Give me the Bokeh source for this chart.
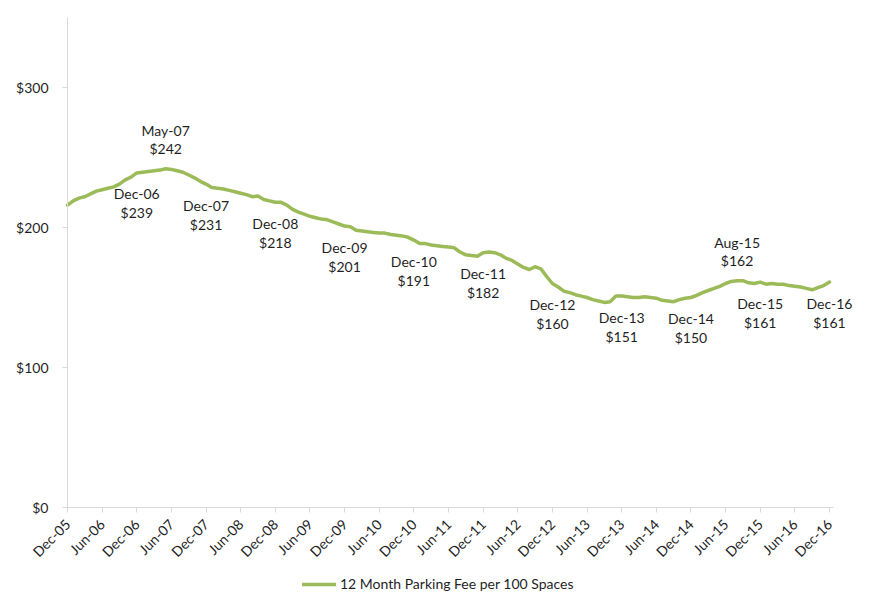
import math
from bokeh.plotting import figure
from bokeh.models import (ColumnDataSource, FixedTicker, NumeralTickFormatter,
                          Range1d, Legend, LegendItem)
from bokeh.core.properties import value
from bokeh.embed import file_html
from bokeh.resources import INLINE

# Monthly 12-month parking fee per 100 spaces, Dec-05 .. Dec-16 (index 0..132)
fee = [
    216, 219, 221, 222, 224, 226, 227, 228, 229, 231, 234, 236,          # Dec-05..Nov-06
    239, 239.5, 240, 240.5, 241, 242, 241.5, 240.5, 239.5, 237.5, 235.5, 233,  # Dec-06..Nov-07
    231, 228.5, 228, 227.5, 226.5, 225.5, 224.5, 223.5, 222, 222.5, 220, 219,  # Dec-07..Nov-08
    218, 218, 216, 213, 211, 209.5, 208, 207, 206, 205.5, 204, 202.5,    # Dec-08..Nov-09
    201, 200.5, 198, 197.5, 197, 196.5, 196, 196, 195, 194.5, 194, 193,  # Dec-09..Nov-10
    191, 188.5, 188.5, 187.5, 187, 186.5, 186, 185.5, 182.5, 180.5, 180, 179.5,  # Dec-10..Nov-11
    182, 182.5, 182, 180.5, 178, 176.5, 174, 171.5, 170, 172, 170.5, 165,  # Dec-11..Nov-12
    160, 157.5, 154.5, 153.5, 152, 151, 150, 148.5, 147.5, 146.5, 147, 151,  # Dec-12..Nov-13
    151, 150.5, 150, 150, 150.5, 150, 149.5, 148, 147.5, 147, 148.5, 149.5,  # Dec-13..Nov-14
    150, 151.5, 153.5, 155, 156.5, 158, 160, 161.5, 162, 162, 160.5, 160,    # Dec-14..Nov-15
    161, 159.5, 160, 159.5, 159.5, 158.5, 158, 157.5, 156.5, 155.5, 157, 158.5,  # Dec-15..Nov-16
    161,                                                                   # Dec-16
]
months = list(range(len(fee)))

tick_positions = list(range(0, 133, 6))
tick_labels = ["Dec-05", "Jun-06", "Dec-06", "Jun-07", "Dec-07", "Jun-08", "Dec-08",
               "Jun-09", "Dec-09", "Jun-10", "Dec-10", "Jun-11", "Dec-11", "Jun-12",
               "Dec-12", "Jun-13", "Dec-13", "Jun-14", "Dec-14", "Jun-15", "Dec-15",
               "Jun-16", "Dec-16"]

ann_labels = ["Dec-06", "May-07", "Dec-07", "Dec-08", "Dec-09", "Dec-10", "Dec-11",
              "Dec-12", "Dec-13", "Dec-14", "Aug-15", "Dec-15", "Dec-16"]
ann_index = [12, 17, 24, 36, 48, 60, 72, 84, 96, 108, 116, 120, 132]
ann_values = [239, 242, 231, 218, 201, 191, 182, 160, 151, 150, 162, 161, 161]
ann_above = [False, True, False, False, False, False, False, False, False, False,
             True, False, False]

y_ticks = [0, 100, 200, 300]
series_name = "12 Month Parking Fee per 100 Spaces"

FONT = "Lato"
TXT = "#1f1f1f"
AXIS = "#d9d9d9"
GREEN = "#9bbb59"

p = figure(width=871, height=592, frame_width=871, frame_height=592,
           output_backend="svg", toolbar_location=None,
           x_range=Range1d(-11.606, 139.28), y_range=Range1d(-60.7, 362.14))
p.min_border_left = 0
p.min_border_right = 0
p.min_border_top = 0
p.min_border_bottom = 0
p.outline_line_color = None
p.xgrid.grid_line_color = None
p.ygrid.grid_line_color = None

src = ColumnDataSource(dict(x=months, y=fee))
line = p.line("x", "y", source=src, line_color=GREEN, line_width=3.5,
              line_join="round", line_cap="round")

# annotations
lab_x, lab_y, lab_t, lab_off = [], [], [], []
for lab, i, v, above in zip(ann_labels, ann_index, ann_values, ann_above):
    offs = (-38, -20) if above else (21, 40)
    lab_x += [i, i]
    lab_y += [v, v]
    lab_t += [lab, "$%d" % v]
    lab_off += list(offs)
asrc = ColumnDataSource(dict(x=lab_x, y=lab_y, t=lab_t, off=lab_off))
p.text("x", "y", text="t", y_offset="off", source=asrc, text_align="center",
       text_baseline="middle", text_font=value(FONT), text_font_size="14px",
       text_color=TXT)

# axes
p.xaxis.ticker = FixedTicker(ticks=tick_positions)
p.xaxis.major_label_overrides = {t: l for t, l in zip(tick_positions, tick_labels)}
p.xaxis.major_label_orientation = math.pi / 4
p.xaxis.bounds = (0, 132.7)
p.xaxis.fixed_location = 0
p.yaxis.ticker = FixedTicker(ticks=y_ticks)
p.yaxis.formatter = NumeralTickFormatter(format="$0")
p.yaxis.bounds = (0, 350)
p.yaxis.fixed_location = 0
for ax in (p.xaxis[0], p.yaxis[0]):
    ax.axis_line_color = AXIS
    ax.axis_line_width = 1
    ax.major_tick_line_color = AXIS
    ax.major_tick_out = 5
    ax.major_tick_in = 0
    ax.minor_tick_line_color = None
    ax.major_label_text_font = FONT
    ax.major_label_text_color = TXT
p.xaxis.major_label_text_font_size = "14px"
p.yaxis.major_label_text_font_size = "14px"
p.yaxis.major_label_standoff = 14
p.xaxis.major_label_standoff = 9

legend = Legend(items=[LegendItem(label=series_name, renderers=[line])],
                orientation="horizontal", location=(302, 0),
                border_line_alpha=0, background_fill_alpha=0,
                label_text_font=FONT, label_text_font_size="14px",
                label_text_color=TXT, glyph_width=34, label_standoff=4,
                padding=0, margin=0, spacing=0, label_height=16, glyph_height=16)
p.add_layout(legend, "center")

open("out.html", "w").write(file_html(p, INLINE))
